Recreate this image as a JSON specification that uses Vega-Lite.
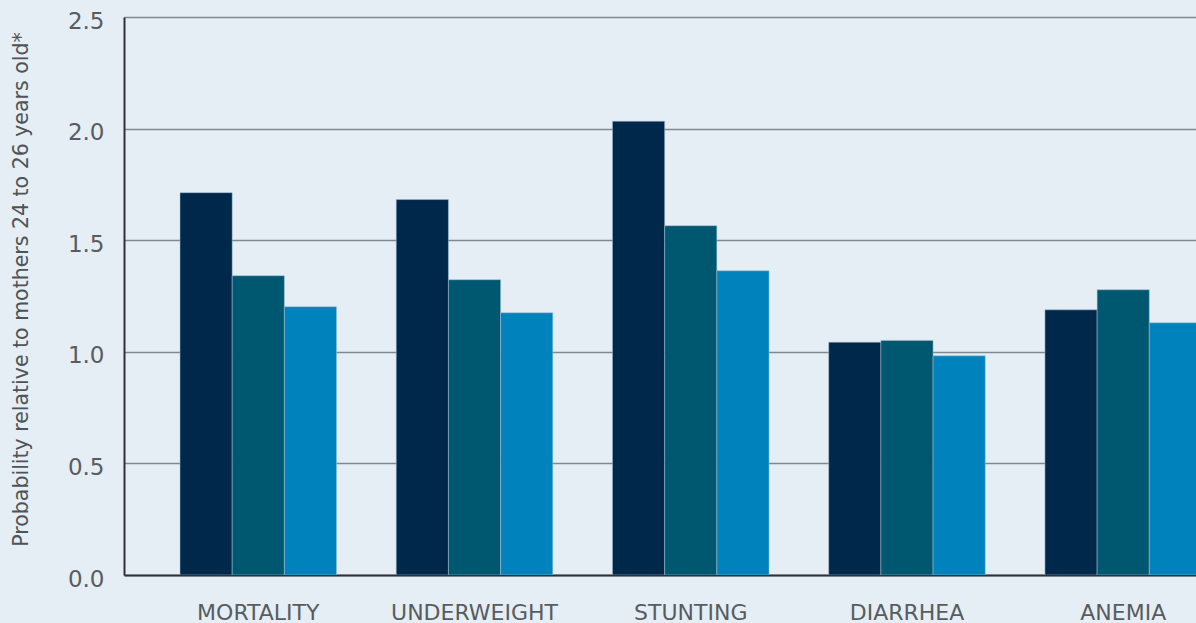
{
  "$schema": "https://vega.github.io/schema/vega-lite/v6.json",
  "width": 1072,
  "height": 558,
  "autosize": {"type": "none"},
  "padding": {"left": 124, "top": 17, "right": 0, "bottom": 48},
  "background": "#e6eef5",
  "config": {
    "view": {"stroke": null},
    "font": "DejaVu Sans"
  },
  "data": {
    "values": [
      {"outcome": "MORTALITY", "group": "Under 18", "value": 1.713},
      {"outcome": "MORTALITY", "group": "18 to 19", "value": 1.341},
      {"outcome": "MORTALITY", "group": "20 to 23", "value": 1.202},
      {"outcome": "UNDERWEIGHT", "group": "Under 18", "value": 1.682},
      {"outcome": "UNDERWEIGHT", "group": "18 to 19", "value": 1.323},
      {"outcome": "UNDERWEIGHT", "group": "20 to 23", "value": 1.175},
      {"outcome": "STUNTING", "group": "Under 18", "value": 2.033},
      {"outcome": "STUNTING", "group": "18 to 19", "value": 1.565},
      {"outcome": "STUNTING", "group": "20 to 23", "value": 1.363},
      {"outcome": "DIARRHEA", "group": "Under 18", "value": 1.043},
      {"outcome": "DIARRHEA", "group": "18 to 19", "value": 1.051},
      {"outcome": "DIARRHEA", "group": "20 to 23", "value": 0.982},
      {"outcome": "ANEMIA", "group": "Under 18", "value": 1.188},
      {"outcome": "ANEMIA", "group": "18 to 19", "value": 1.278},
      {"outcome": "ANEMIA", "group": "20 to 23", "value": 1.13}
    ]
  },
  "mark": {"type": "bar", "clip": true, "stroke": "#a9c2d3", "strokeWidth": 1, "strokeOpacity": 0.5},
  "encoding": {
    "x": {
      "field": "outcome",
      "type": "nominal",
      "sort": null,
      "scale": {"range": [0, 1133.5], "paddingInner": 0.276, "paddingOuter": 0.259},
      "axis": {
        "title": null,
        "labelAngle": 0,
        "ticks": false,
        "domainColor": "#2e3236",
        "domainWidth": 2,
        "labelFontSize": 22,
        "labelColor": "#585c60",
        "labelPadding": 27,
        "labelBaseline": "top"
      }
    },
    "xOffset": {
      "field": "group",
      "type": "nominal",
      "sort": null,
      "scale": {"paddingInner": 0, "paddingOuter": 0}
    },
    "y": {
      "field": "value",
      "type": "quantitative",
      "scale": {"domain": [0, 2.5], "nice": false},
      "axis": {
        "title": "Probability relative to mothers 24 to 26 years old*",
        "values": [0, 0.5, 1, 1.5, 2, 2.5],
        "format": ".1f",
        "ticks": false,
        "domainColor": "#2e3236",
        "domainWidth": 2,
        "gridColor": "#7e8a91",
        "gridWidth": 1.5,
        "labelFontSize": 23,
        "labelColor": "#585c60",
        "labelPadding": 20,
        "labelOffset": 4,
        "titleFontSize": 20.5,
        "titleFontWeight": "normal",
        "titleColor": "#4e5357",
        "titleX": -93,
        "titleY": 272,
        "titleAngle": -90,
        "titleAlign": "center",
        "titleBaseline": "bottom"
      }
    },
    "color": {
      "field": "group",
      "type": "nominal",
      "sort": null,
      "scale": {"range": ["#00284a", "#005870", "#0083bd"]},
      "legend": null
    }
  }
}
